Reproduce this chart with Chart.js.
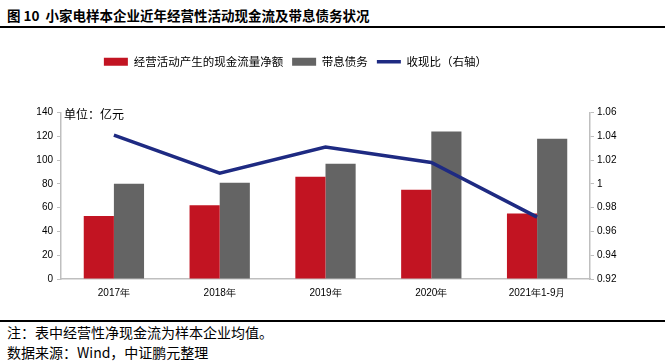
<!DOCTYPE html>
<html>
<head>
<meta charset="utf-8">
<script src="https://cdn.jsdelivr.net/npm/chart.js@4"></script>
<style>
  body { margin: 0; background: #fff; }
  #page { position: relative; width: 665px; height: 364px; overflow: hidden; font-family: "Noto Sans CJK SC", sans-serif; }
  .title { position: absolute; left: 7px; top: 5px; font-size: 13.5px; font-weight: bold; line-height: 20px; color: #000; }
  .rule { position: absolute; left: 0; width: 665px; height: 1.5px; background: #000; }
  .note { position: absolute; left: 7px; font-size: 14px; line-height: 19px; color: #000; }
  #wrap { position: absolute; left: 0; top: 35px; width: 665px; height: 280px; }
</style>
</head>
<body>
<div id="page">
  <div class="title">图 10&nbsp; 小家电样本企业近年经营性活动现金流及带息债务状况</div>
  <div class="rule" style="top:26px"></div>
  <div id="wrap"><canvas id="chart" width="665" height="280"></canvas></div>
  <div class="rule" style="top:320px"></div>
  <div class="note" style="top:323px">注：表中经营性净现金流为样本企业均值。</div>
  <div class="note" style="top:343px">数据来源：Wind，中证鹏元整理</div>
</div>
<script>
const categories = ['2017年', '2018年', '2019年', '2020年', '2021年1-9月'];
const cashFlow = [53, 62, 86, 75, 55];
const debt = [80, 81, 97, 124, 118];
const ratio = [1.041, 1.009, 1.031, 1.018, 0.972];

// unit label at the top-left corner of the plot area,
// legend nudged left so it centres over the plot + left axis
const extras = {
  id: 'extras',
  beforeDraw(chart) {
    if (chart.legend && !chart.legend._shifted) {
      chart.legend.right -= 74;
      chart.legend._shifted = true;
    }
  },
  afterDraw(chart) {
    const { ctx, chartArea } = chart;
    ctx.save();
    ctx.font = '12px "Noto Sans CJK SC"';
    ctx.fillStyle = '#000';
    ctx.textBaseline = 'middle';
    ctx.fillText('单位：亿元', chartArea.left + 3, chartArea.top + 2);
    ctx.restore();
  }
};

const axisColor = '#bfbfbf';
const tickFont = { family: '"Liberation Sans", Arial', size: 10 };

new Chart(document.getElementById('chart').getContext('2d'), {
  type: 'bar',
  data: {
    labels: categories,
    datasets: [
      {
        label: '经营活动产生的现金流量净额',
        data: cashFlow,
        backgroundColor: '#c21422',
        pointStyle: 'rect',
        yAxisID: 'y',
        order: 2
      },
      {
        label: '带息债务',
        data: debt,
        backgroundColor: '#646464',
        pointStyle: 'rect',
        yAxisID: 'y',
        order: 2
      },
      {
        type: 'line',
        label: '收现比（右轴）',
        data: ratio,
        borderColor: '#1e2a82',
        backgroundColor: '#1e2a82',
        borderWidth: 3.5,
        pointRadius: 0,
        pointStyle: 'line',
        tension: 0,
        yAxisID: 'y1',
        order: 1
      }
    ]
  },
  options: {
    responsive: false,
    animation: false,
    layout: { padding: { top: 12, left: 0, right: 0, bottom: 0 } },
    datasets: {
      bar: { categoryPercentage: 0.57, barPercentage: 1.0 }
    },
    plugins: {
      legend: {
        position: 'top',
        weight: 3000,
        labels: {
          usePointStyle: true,
          pointStyleWidth: 24,
          boxHeight: 8,
          padding: 9,
          color: '#000',
          font: { family: '"Noto Sans CJK SC"', size: 11.5 },
          sort: (a, b) => a.datasetIndex - b.datasetIndex
        }
      },
      // empty title used as spacer between legend and plot
      title: {
        display: true,
        text: '',
        weight: 500,
        font: { size: 1, lineHeight: 1 },
        padding: { top: 34, bottom: 0 }
      },
      tooltip: { enabled: false }
    },
    scales: {
      x: {
        grid: { display: false },
        border: { color: axisColor, width: 1.5 },
        ticks: { color: '#000', font: tickFont, padding: 0 },
        afterFit(scale) { scale.height = 36; }
      },
      y: {
        position: 'left',
        min: 0,
        max: 140,
        ticks: { stepSize: 20, color: '#000', font: tickFont, padding: 4 },
        grid: { drawOnChartArea: false, tickLength: 4, color: axisColor },
        border: { color: axisColor, width: 1.5 },
        afterFit(scale) { scale.width = 61; }
      },
      y1: {
        position: 'right',
        min: 0.92,
        max: 1.06,
        ticks: {
          stepSize: 0.02,
          color: '#000',
          font: tickFont,
          padding: 3,
          callback: v => String(Number(v.toFixed(2)))
        },
        grid: { drawOnChartArea: false, tickLength: 4, color: axisColor },
        border: { color: axisColor, width: 1.5 },
        afterFit(scale) { scale.width = 75; }
      }
    }
  },
  plugins: [extras]
});
</script>
</body>
</html>
